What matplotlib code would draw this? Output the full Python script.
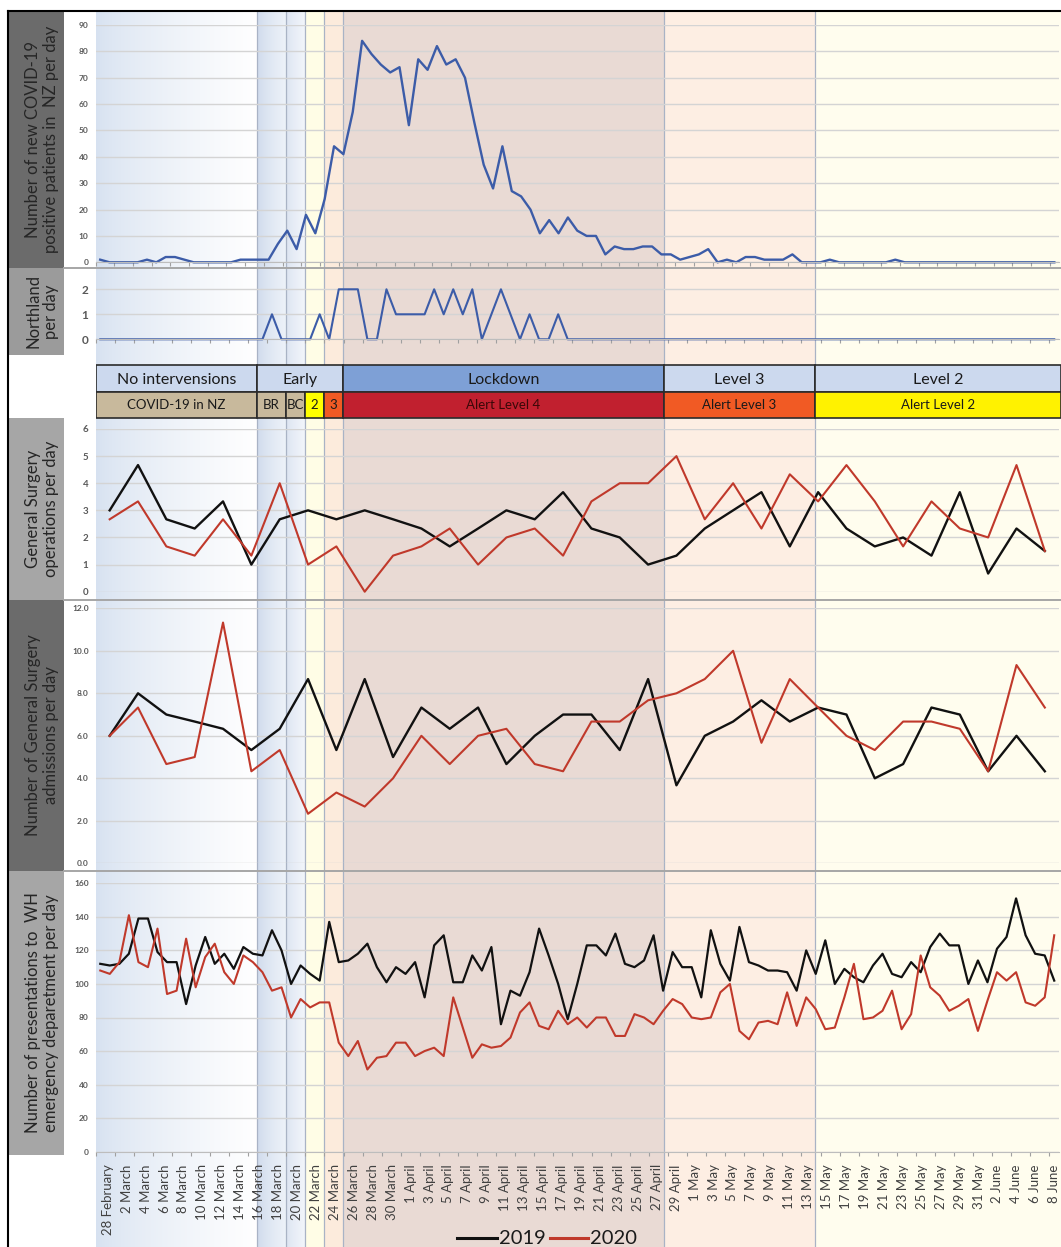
import numpy as np
import matplotlib
matplotlib.use('Agg')
import matplotlib.pyplot as plt
from matplotlib.patches import Rectangle
from matplotlib.colors import to_rgb

plt.rcParams['font.family'] = ['Lato', 'DejaVu Sans']

W, H = 1061, 1247

# x axis labels (every second day from 28 February)
date_labels = ['28 February', '2 March', '4 March', '6 March', '8 March', '10 March',
               '12 March', '14 March', '16 March', '18 March', '20 March', '22 March',
               '24 March', '26 March', '28 March', '30 March', '1 April', '3 April',
               '5 April', '7 April', '9 April', '11 April', '13 April', '15 April',
               '17 April', '19 April', '21 April', '23 April', '25 April', '27 April',
               '29 April', '1 May', '3 May', '5 May', '7 May', '9 May', '11 May',
               '13 May', '15 May', '17 May', '19 May', '21 May', '23 May', '25 May',
               '27 May', '29 May', '31 May', '2 June', '4 June', '6 June', '8 June']

# new COVID-19 cases in NZ per day
covid_nz = [1, 0, 0, 0, 0, 1, 0, 2, 2, 1,
            0, 0, 0, 0, 0, 1, 1, 1, 1, 7,
            12, 5, 18, 11, 24, 44, 41, 57, 84, 79,
            75, 72, 74, 52, 77, 73, 82, 75, 77, 70,
            53, 37, 28, 44, 27, 25, 20, 11, 16, 11,
            17, 12, 10, 10, 3, 6, 5, 5, 6, 6,
            3, 3, 1, 2, 3, 5, 0, 1, 0, 2,
            2, 1, 1, 1, 3, 0, 0, 0, 1, 0,
            0, 0, 0, 0, 0, 1, 0, 0, 0, 0,
            0, 0, 0, 0, 0, 0, 0, 0, 0, 0,
            0, 0, 0]

# Northland cases per day
northland = [0, 0, 0, 0, 0, 0, 0, 0, 0, 0,
             0, 0, 0, 0, 0, 0, 0, 0, 1, 0,
             0, 0, 0, 1, 0, 2, 2, 2, 0, 0,
             2, 1, 1, 1, 1, 2, 1, 2, 1, 2,
             0, 1, 2, 1, 0, 1, 0, 0, 1, 0,
             0, 0, 0, 0, 0, 0, 0, 0, 0, 0,
             0, 0, 0, 0, 0, 0, 0, 0, 0, 0,
             0, 0, 0, 0, 0, 0, 0, 0, 0, 0,
             0, 0, 0, 0, 0, 0, 0, 0, 0, 0,
             0, 0, 0, 0, 0, 0, 0, 0, 0, 0,
             0]

# general surgery operations per day (3-day means)
ops_2019 = [3.0, 4.67, 2.67, 2.33, 3.33, 1.0, 2.67, 3.0, 2.67, 3.0, 2.67, 2.33,
            1.67, 2.33, 3.0, 2.67, 3.67, 2.33, 2.0, 1.0, 1.33, 2.33, 3.0, 3.67,
            1.67, 3.67, 2.33, 1.67, 2.0, 1.33, 3.67, 0.67, 2.33, 1.5]
ops_2020 = [2.67, 3.33, 1.67, 1.33, 2.67, 1.33, 4.0, 1.0, 1.67, 0.0, 1.33, 1.67,
            2.33, 1.0, 2.0, 2.33, 1.33, 3.33, 4.0, 4.0, 5.0, 2.67, 4.0, 2.33,
            4.33, 3.33, 4.67, 3.33, 1.67, 3.33, 2.33, 2.0, 4.67, 1.5]

# general surgery admissions per day (3-day means)
adm_2019 = [6.0, 8.0, 7.0, 6.67, 6.33, 5.33, 6.33, 8.67, 5.33, 8.67, 5.0, 7.33,
            6.33, 7.33, 4.67, 6.0, 7.0, 7.0, 5.33, 8.67, 3.67, 6.0, 6.67, 7.67,
            6.67, 7.33, 7.0, 4.0, 4.67, 7.33, 7.0, 4.33, 6.0, 4.33]
adm_2020 = [6.0, 7.33, 4.67, 5.0, 11.33, 4.33, 5.33, 2.33, 3.33, 2.67, 4.0, 6.0,
            4.67, 6.0, 6.33, 4.67, 4.33, 6.67, 6.67, 7.67, 8.0, 8.67, 10.0, 5.67,
            8.67, 7.33, 6.0, 5.33, 6.67, 6.67, 6.33, 4.33, 9.33, 7.33]

# presentations to WH emergency department per day
ed_2019 = [112, 111, 112, 118, 139, 139, 119, 113, 113, 88,
           111, 128, 112, 118, 109, 122, 118, 117, 132, 120,
           100, 111, 106, 102, 137, 113, 114, 118, 124, 110,
           101, 110, 106, 113, 92, 123, 129, 101, 101, 117,
           108, 122, 76, 96, 93, 107, 133, 117, 100, 79,
           100, 123, 123, 117, 130, 112, 110, 114, 129, 96,
           119, 110, 110, 92, 132, 112, 102, 134, 113, 111,
           108, 108, 107, 96, 120, 106, 126, 100, 109, 104,
           101, 111, 118, 106, 104, 113, 107, 122, 130, 123,
           123, 100, 114, 101, 121, 128, 151, 129, 118, 117,
           102]
ed_2020 = [108, 106, 113, 141, 113, 110, 133, 94, 96, 127,
           98, 116, 124, 107, 100, 117, 113, 107, 96, 98,
           80, 91, 86, 89, 89, 65, 57, 66, 49, 56,
           57, 65, 65, 57, 60, 62, 57, 92, 74, 56,
           64, 62, 63, 68, 83, 89, 75, 73, 84, 76,
           80, 74, 80, 80, 69, 69, 82, 80, 76, 84,
           91, 88, 80, 79, 80, 95, 100, 72, 67, 77,
           78, 76, 95, 75, 92, 85, 73, 74, 92, 112,
           79, 80, 84, 96, 73, 82, 117, 98, 93, 84,
           87, 91, 72, 90, 107, 102, 107, 89, 87, 92,
           129]

# intervention phases, edges in days since 28 February
phase_edges = [-0.5, 16.45, 19.45, 21.5, 23.45, 25.45, 59.05, 74.95, 100.7]
top_row = [('No intervensions', 0, 1), ('Early', 1, 5), ('Lockdown', 5, 6),
           ('Level 3', 6, 7), ('Level 2', 7, 8)]
bottom_row = [('COVID-19 in NZ', 0, 1), ('BR', 1, 2), ('BC', 2, 3), ('2', 3, 4),
              ('3', 4, 5), ('Alert Level 4', 5, 6), ('Alert Level 3', 6, 7),
              ('Alert Level 2', 7, 8)]

phase_fill = [('#d6e1f0', '#ffffff'), ('#cdd9eb', '#edf2f9'), ('#d9e2f0', '#f3f6fb'),
              '#fffde6', '#fcebdc', '#e9dad4', '#fdeee3', '#fffdee']
top_colors = ['#ccd9ee', '#ccd9ee', '#7ea0d6', '#ccd9ee', '#ccd9ee']
bottom_colors = ['#c8b99c', '#c8b99c', '#c8b99c', '#ffff00', '#f15a24',
                 '#c1202f', '#f15a24', '#fff200']

BLUE = '#3c5ca8'
BLACK = '#111111'
RED = '#c0392b'

fig = plt.figure(figsize=(W / 100, H / 100), dpi=100)


def px_axes(x0, y0, x1, y1, z):
    return fig.add_axes([x0 / W, 1 - y1 / H, (x1 - x0) / W, (y1 - y0) / H], zorder=z)


# Background: phase shading and intervention table
bg = px_axes(95.5, 11, 1061, 1247, 0)
for i, fill in enumerate(phase_fill):
    x0, x1 = phase_edges[i], phase_edges[i + 1]
    if isinstance(fill, tuple):
        t = np.linspace(0, 1, 256) ** 0.7
        c0, c1 = np.array(to_rgb(fill[0])), np.array(to_rgb(fill[1]))
        img = (c0[None, :] * (1 - t[:, None]) + c1[None, :] * t[:, None])[None, :, :]
        bg.imshow(img, extent=(x0, x1, 1247, 11), aspect='auto',
                  interpolation='bilinear', zorder=0)
    else:
        bg.axvspan(x0, x1, color=fill, lw=0, zorder=0)
    if i > 0:
        bg.axvline(x0, color='#a9b3c5', lw=0.9, zorder=1)

for (label, a, b), fc in zip(top_row, top_colors):
    x0, x1 = phase_edges[a], phase_edges[b]
    bg.add_patch(Rectangle((x0, 365), x1 - x0, 26.7, fc=fc, ec='#2b2b2b', lw=1.2, zorder=3))
    bg.text((x0 + x1) / 2, 380, label, ha='center', va='center', fontsize=11.5,
            color='#1a1a1a', zorder=4)
for (label, a, b), fc in zip(bottom_row, bottom_colors):
    x0, x1 = phase_edges[a], phase_edges[b]
    bg.add_patch(Rectangle((x0, 391.7), x1 - x0, 26, fc=fc, ec='#2b2b2b', lw=1.2, zorder=3))
    tc = '#3a0808' if fc == '#c1202f' else '#1a1a1a'
    bg.text((x0 + x1) / 2, 405, label, ha='center', va='center', fontsize=9.5,
            color=tc, zorder=4)
bg.set_xlim(phase_edges[0], phase_edges[-1])
bg.set_ylim(1247, 11)
bg.axis('off')


def panel(y_top, y_bot, n, ymax, step, fs, fmt='{:.0f}', axis_ticks=False):
    ax = px_axes(95.5, y_top, 1059, y_bot, 2)
    ax.patch.set_alpha(0)
    ax.set_xlim(-0.5, n - 0.5)
    ax.set_ylim(0, ymax)
    ticks = np.arange(0, ymax + 1e-9, step)
    ax.set_yticks(ticks)
    ax.set_yticklabels([fmt.format(v) for v in ticks], fontweight='bold')
    ax.tick_params(axis='y', length=0, pad=5, labelsize=fs, labelcolor='#595959')
    ax.grid(axis='y', color='#d4d4d4', lw=1.0)
    ax.set_axisbelow(True)
    for s in ax.spines.values():
        s.set_visible(False)
    if axis_ticks:
        ax.spines['bottom'].set_visible(True)
        ax.spines['bottom'].set_color('#bdbdbd')
        ax.set_xticks(np.arange(-0.5, n, 2))
        ax.tick_params(axis='x', length=3, color='#a0a0a0', labelbottom=False)
    else:
        ax.set_xticks([])
    return ax


ax1 = panel(25, 262.3, len(covid_nz), 90, 10, 6, axis_ticks=True)
ax1.plot(np.arange(len(covid_nz)), covid_nz, color=BLUE, lw=1.7, clip_on=False)

ax2 = panel(276.8, 339.3, len(northland), 2.5, 1, 8.5, axis_ticks=True)
ax2.plot(np.arange(len(northland)), northland, color=BLUE, lw=1.5, clip_on=False)

ax3 = panel(429, 591.7, len(ops_2019), 6, 1, 7)
ax3.plot(np.arange(len(ops_2019)), ops_2019, color=BLACK, lw=1.7, clip_on=False)
ax3.plot(np.arange(len(ops_2020)), ops_2020, color=RED, lw=1.5, clip_on=False)

ax4 = panel(608.3, 863.3, len(adm_2019), 12, 2, 6, fmt='{:.1f}')
ax4.plot(np.arange(len(adm_2019)), adm_2019, color=BLACK, lw=1.7, clip_on=False)
ax4.plot(np.arange(len(adm_2020)), adm_2020, color=RED, lw=1.5, clip_on=False)

ax5 = panel(883.3, 1151.7, len(ed_2019), 160, 20, 6, axis_ticks=True)
ax5.plot(np.arange(len(ed_2019)), ed_2019, color=BLACK, lw=1.6, clip_on=False)
ax5.plot(np.arange(len(ed_2020)), ed_2020, color=RED, lw=1.5, clip_on=False)

# date labels
lab = px_axes(103, 1146, 1059, 1151.7, 2)
lab.patch.set_alpha(0)
lab.set_xlim(-0.5, 100.5)
lab.set_xticks(np.arange(0, 2 * len(date_labels), 2))
lab.set_xticklabels(date_labels, rotation=90, fontsize=9.5, color='#404040')
lab.tick_params(axis='x', length=0, pad=9)
lab.set_yticks([])
for s in lab.spines.values():
    s.set_visible(False)

# Overlay: side labels, frame, separators, legend
ov = fig.add_axes([0, 0, 1, 1], zorder=3)
ov.patch.set_alpha(0)
ov.set_xlim(0, W)
ov.set_ylim(H, 0)
ov.axis('off')

side_boxes = [
    (11, 268, '#6b6b6b', 'Number of new COVID-19\npositive patients in  NZ per day'),
    (268, 355, '#9b9b9b', 'Northland\nper day'),
    (418, 599.5, '#a6a6a6', 'General Surgery\noperations per day'),
    (599.5, 870.5, '#6b6b6b', 'Number of General Surgery\nadmissions per day'),
    (870.5, 1155, '#a6a6a6', 'Number of presentations to  WH\nemergency deparetment per day'),
]
for y0, y1, fc, txt in side_boxes:
    ov.add_patch(Rectangle((8, y0), 56, y1 - y0, fc=fc, lw=0))
    ov.text(42, (y0 + y1) / 2, txt, rotation=90, ha='center', va='center',
            fontsize=12, color='#262626', linespacing=1.12)

for y in (268, 599.5, 870.5):
    ov.plot([64, W], [y, y], color='#a6a6a6', lw=1.4)
ov.plot([8, W], [11, 11], color='black', lw=1.5)
ov.plot([8, 8], [11, H], color='black', lw=1.5)

legend_font = ['Liberation Sans Narrow', 'Lato', 'DejaVu Sans']
ov.plot([457, 497], [1238, 1238], color=BLACK, lw=2.2)
ov.text(499, 1238, '2019', va='center', ha='left', fontsize=14.5, family=legend_font,
        color='#1a1a1a')
ov.plot([550, 588], [1238, 1238], color=RED, lw=2.2)
ov.text(590, 1238, '2020', va='center', ha='left', fontsize=14.5, family=legend_font,
        color='#1a1a1a')

fig.savefig('out.png', dpi=100)
